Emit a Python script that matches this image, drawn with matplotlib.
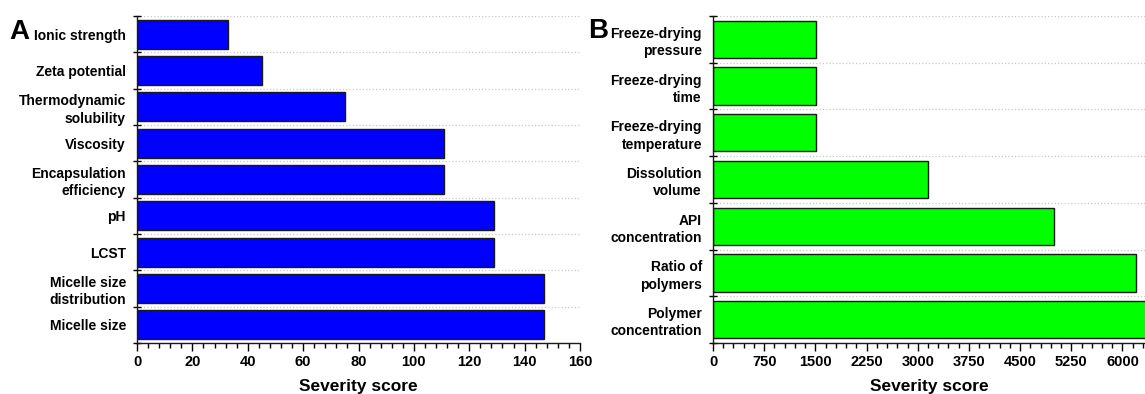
import matplotlib.pyplot as plt
from matplotlib.ticker import MultipleLocator
import numpy as np

# Panel A data
factors_a = ["Ionic strength", "Zeta potential", "Thermodynamic\nsolubility",
             "Viscosity", "Encapsulation\nefficiency", "pH", "LCST",
             "Micelle size\ndistribution", "Micelle size"]
scores_a = [33, 45, 75, 111, 111, 129, 129, 147, 147]

# Panel B data
factors_b = ["Freeze-drying\npressure", "Freeze-drying\ntime",
             "Freeze-drying\ntemperature", "Dissolution\nvolume",
             "API\nconcentration", "Ratio of\npolymers",
             "Polymer\nconcentration"]
scores_b = [1512, 1512, 1512, 3150, 5000, 6200, 6400]


def draw_panel(ax, labels, values, color, xmax, major, minor):
    n = len(labels)
    pos = np.arange(n)
    ax.barh(pos, values, height=0.8, color=color, edgecolor="#1a1a1a",
            linewidth=1.0, zorder=2)
    ax.set_ylim(n - 0.5, -0.5)
    ax.set_xlim(0, xmax)

    # boundaries between categories carry ticks + dotted grid
    ax.set_yticks(np.arange(n + 1) - 0.5)
    ax.set_yticklabels([])
    ax.set_yticks(pos, minor=True)
    ax.set_yticklabels(labels, minor=True, fontsize=10, fontweight="bold",
                       linespacing=1.3)
    ax.tick_params(axis="y", which="major", direction="inout", length=6,
                   width=1.0)
    ax.tick_params(axis="y", which="minor", length=0, pad=8)
    ax.grid(True, axis="y", which="major", linestyle=":", color="#c8c8c8",
            linewidth=0.9, zorder=0)
    ax.set_axisbelow(True)

    ax.xaxis.set_major_locator(MultipleLocator(major))
    ax.xaxis.set_minor_locator(MultipleLocator(minor))
    ax.tick_params(axis="x", which="major", direction="out", length=6,
                   width=1.0, labelsize=10.5, pad=3)
    ax.tick_params(axis="x", which="minor", direction="out", length=3.5,
                   width=1.0)
    for t in ax.get_xticklabels():
        t.set_fontweight("bold")
    ax.set_xlabel("Severity score", fontsize=12.5, fontweight="bold",
                  labelpad=6.5)

    for side in ["top", "right"]:
        ax.spines[side].set_visible(False)
    for side in ["left", "bottom"]:
        ax.spines[side].set_linewidth(1.0)
        ax.spines[side].set_color("#1a1a1a")


def main():
    plt.rcParams["font.family"] = ["Liberation Sans", "DejaVu Sans"]

    W, H = 1145, 394
    fig = plt.figure(figsize=(W / 100, H / 100), dpi=100)

    ax_a = fig.add_axes([137 / W, 1 - 343 / H, 443 / W, 327 / H])
    draw_panel(ax_a, factors_a, scores_a, "#0000ff", 160, 20, 4)

    ax_b = fig.add_axes([713 / W, 1 - 343 / H, 432 / W, 327 / H])
    draw_panel(ax_b, factors_b, scores_b, "#00ff00", 6330, 750, 150)

    fig.text(9 / W, 1 - 39 / H, "A", fontsize=20, fontweight="bold",
             ha="left", va="baseline")
    fig.text(588 / W, 1 - 38 / H, "B", fontsize=20, fontweight="bold",
             ha="left", va="baseline")

    fig.savefig("out.png", dpi=100)
    return


if __name__ == "__main__":
    main()
